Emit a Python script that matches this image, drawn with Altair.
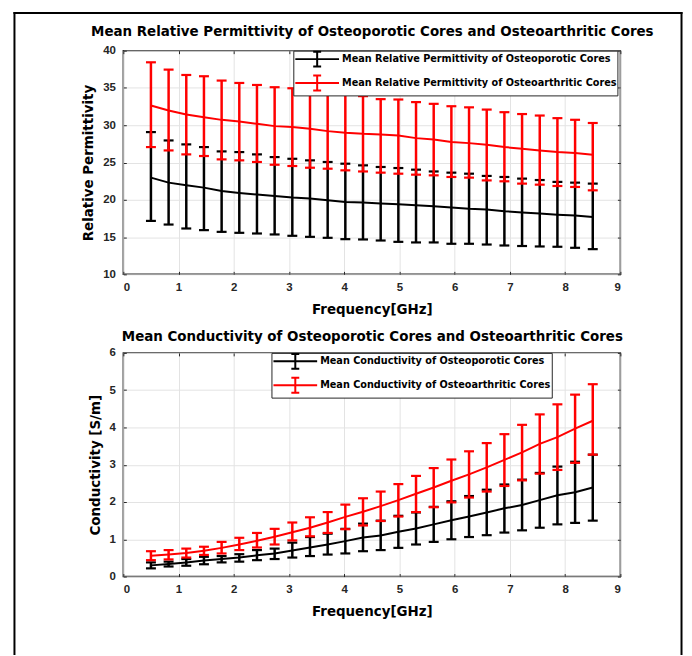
import altair as alt
import pandas as pd

# ---------------- data ----------------
FREQ = [0.5, 0.82, 1.14, 1.46, 1.78, 2.1, 2.42, 2.74, 3.06, 3.38, 3.7, 4.02, 4.34,
        4.66, 4.98, 5.3, 5.62, 5.94, 6.26, 6.58, 6.9, 7.22, 7.54, 7.86, 8.18, 8.5]

PERM_OP_MEAN = [22.97, 22.3, 21.94, 21.63, 21.19, 20.92, 20.7, 20.52, 20.3, 20.16, 19.94, 19.71, 19.63,
                19.5, 19.4, 19.27, 19.14, 18.96, 18.8, 18.7, 18.47, 18.3, 18.15, 18.0, 17.9, 17.7]
PERM_OP_HI = [29.08, 27.96, 27.43, 27.07, 26.49, 26.4, 26.09, 25.73, 25.5, 25.29, 25.07, 24.84, 24.62,
              24.4, 24.26, 24.04, 23.8, 23.64, 23.5, 23.2, 23.06, 22.84, 22.65, 22.4, 22.3, 22.17]
PERM_OP_LO = [17.17, 16.68, 16.15, 15.93, 15.7, 15.57, 15.48, 15.35, 15.17, 15.03, 14.9, 14.72, 14.68,
              14.54, 14.36, 14.28, 14.28, 14.1, 14.1, 14.0, 13.87, 13.8, 13.74, 13.7, 13.56, 13.38]

PERM_OA_MEAN = [32.64, 31.97, 31.44, 31.08, 30.72, 30.5, 30.19, 29.88, 29.75, 29.52, 29.21, 28.99, 28.85,
                28.77, 28.63, 28.27, 28.1, 27.74, 27.6, 27.38, 27.07, 26.85, 26.6, 26.4, 26.27, 26.05]
PERM_OA_HI = [38.44, 37.46, 36.74, 36.57, 35.99, 35.67, 35.4, 35.1, 34.96, 34.6, 34.34, 34.1, 33.9,
              33.5, 33.45, 33.1, 32.87, 32.55, 32.4, 32.1, 31.75, 31.5, 31.3, 30.95, 30.73, 30.3]
PERM_OA_LO = [27.07, 26.62, 26.09, 25.87, 25.42, 25.29, 25.07, 24.7, 24.53, 24.3, 24.17, 23.95, 23.8,
              23.64, 23.5, 23.37, 23.28, 23.06, 22.97, 22.6, 22.48, 22.17, 22.03, 21.85, 21.72, 21.27]

COND_OP_MEAN = [0.3, 0.34, 0.38, 0.43, 0.47, 0.51, 0.57, 0.62, 0.7, 0.78, 0.86, 0.95, 1.05,
                1.1, 1.2, 1.29, 1.4, 1.51, 1.61, 1.72, 1.83, 1.92, 2.05, 2.18, 2.26, 2.39]
COND_OP_HI = [0.38, 0.4, 0.47, 0.53, 0.55, 0.6, 0.71, 0.75, 0.91, 1.06, 1.15, 1.28, 1.42,
              1.5, 1.63, 1.72, 1.87, 2.02, 2.16, 2.33, 2.47, 2.6, 2.78, 2.95, 3.08, 3.27]
COND_OP_LO = [0.22, 0.27, 0.29, 0.33, 0.38, 0.4, 0.44, 0.47, 0.51, 0.55, 0.59, 0.62, 0.68,
              0.71, 0.77, 0.86, 0.93, 1.0, 1.06, 1.11, 1.18, 1.24, 1.31, 1.4, 1.44, 1.5]

COND_OA_MEAN = [0.56, 0.59, 0.63, 0.69, 0.77, 0.86, 0.96, 1.07, 1.19, 1.31, 1.45, 1.6, 1.74,
                1.89, 2.05, 2.22, 2.39, 2.57, 2.74, 2.93, 3.13, 3.33, 3.56, 3.74, 3.97, 4.18]
COND_OA_HI = [0.68, 0.71, 0.75, 0.8, 0.93, 1.04, 1.17, 1.28, 1.45, 1.59, 1.73, 1.93, 2.1,
              2.28, 2.48, 2.7, 2.91, 3.14, 3.36, 3.58, 3.82, 4.07, 4.35, 4.62, 4.88, 5.16]
COND_OA_LO = [0.44, 0.46, 0.51, 0.58, 0.62, 0.71, 0.78, 0.86, 0.97, 1.08, 1.17, 1.27, 1.37,
              1.49, 1.61, 1.73, 1.86, 1.99, 2.12, 2.28, 2.43, 2.58, 2.76, 2.86, 3.05, 3.27]

NAME_PERM_OP = "Mean Relative Permittivity of Osteoporotic Cores"
NAME_PERM_OA = "Mean Relative Permittivity of Osteoarthritic Cores"
NAME_COND_OP = "Mean Conductivity of Osteoporotic Cores"
NAME_COND_OA = "Mean Conductivity of Osteoarthritic Cores"
TITLE_PERM = "Mean Relative Permittivity of Osteoporotic Cores and Osteoarthritic Cores"
TITLE_COND = "Mean Conductivity of Osteoporotic Cores and Osteoarthritic Cores"
X_TITLE = "Frequency[GHz]"
Y_TITLE_PERM = "Relative Permittivity"
Y_TITLE_COND = "Conductivity [S/m]"

X_TICKS = [0, 1, 2, 3, 4, 5, 6, 7, 8, 9]
PERM_TICKS = [10, 15, 20, 25, 30, 35, 40]
COND_TICKS = [0, 1, 2, 3, 4, 5, 6]
SERIES_COLORS = ["#000000", "#ff0000"]

# ---------------- styling ----------------
W, H = 500, 225
TXT = "DejaVu Sans"
NUM = "Liberation Sans"
LEG_PATH = "M-3.14,0H3.14M0,-1.07V1.07M-0.57,-1.07H0.57M-0.57,1.07H0.57"
AX = "#262626"
TICK = dict(ticks=True, tickSize=3, tickColor=AX, tickWidth=1, offset=-3, domain=False)


def frame(name, mean, lo, hi):
    return pd.DataFrame({"freq": FREQ, "series": name, "mean": mean, "lo": lo, "hi": hi})


def panel(df, names, ydom, yticks, ytitle, ptitle, legx, title_pad, border):
    xs = alt.Scale(domain=[0, 9], nice=False)
    ys = alt.Scale(domain=ydom, nice=False)
    legend = alt.Legend(
        title=None, orient="none", legendX=legx, legendY=0,
        symbolType=LEG_PATH, symbolSize=196, symbolStrokeWidth=2,
        symbolOffset=15.5, labelOffset=17, padding=0.5, rowPadding=0,
        labelFont=TXT, labelFontSize=9.75, labelFontWeight="bold", labelColor="#000000",
        labelLimit=500, strokeColor=AX, fillColor="#ffffff",
    )
    color = alt.Color("series:N", scale=alt.Scale(domain=names, range=SERIES_COLORS), legend=legend)

    top_axis = alt.Axis(orient="top", title=ptitle, values=X_TICKS, labels=False, grid=False,
                        titleFont=TXT, titleFontSize=13.5, titleFontWeight="bold",
                        titleColor="#000000", titlePadding=title_pad, **TICK)
    bottom_axis = alt.Axis(orient="bottom", title=X_TITLE, values=X_TICKS, grid=True,
                           labelPadding=7, labelFont=NUM, labelFontSize=11.5,
                           labelFontWeight="bold", labelColor=AX, titleFont=TXT,
                           titleFontSize=13.5, titleFontWeight="bold", titleColor="#000000",
                           titlePadding=10, **TICK)
    left_axis = alt.Axis(orient="left", title=ytitle, values=yticks, grid=True,
                         labelPadding=8, labelFont=NUM, labelFontSize=11.5,
                         labelFontWeight="bold", labelColor=AX, titleFont=TXT,
                         titleFontSize=13.5, titleFontWeight="bold", titleColor="#000000",
                         titlePadding=7, **TICK)
    right_axis = alt.Axis(orient="right", title=None, values=yticks, grid=False, labels=False, **TICK)

    layers = []
    if border:
        bd = alt.Chart(pd.DataFrame({"k": [0]}))
        style = dict(color="#000000", strokeWidth=2, strokeCap="square")
        layers.append(bd.mark_rule(**style).encode(x=alt.value(-109.5), y=alt.value(-38), y2=alt.value(607)))
        layers.append(bd.mark_rule(**style).encode(x=alt.value(561.5), y=alt.value(-38), y2=alt.value(607)))
        layers.append(bd.mark_rule(**style).encode(x=alt.value(-109.5), x2=alt.value(561.5), y=alt.value(-38)))

    base = alt.Chart(df)
    for i, name in enumerate(names):
        d = base.transform_filter(alt.datum.series == name)
        xn = alt.X("freq:Q", scale=xs, axis=None)
        y_rule_axis = left_axis if i == 0 else None
        layers.append(d.mark_rule(strokeWidth=2.5).encode(
            x=xn, y=alt.Y("lo:Q", scale=ys, axis=y_rule_axis), y2="hi:Q", color=color))
        for f in ("hi", "lo"):
            layers.append(d.mark_rule(strokeWidth=2.2, xOffset=-5, x2Offset=5).encode(
                x=xn, x2="freq:Q", y=alt.Y(f + ":Q", scale=ys, axis=None), color=color))
        if i == 0:
            xa = alt.X("freq:Q", scale=xs, axis=top_axis)
            ya = alt.Y("mean:Q", scale=ys, axis=right_axis)
        else:
            xa = alt.X("freq:Q", scale=xs, axis=bottom_axis)
            ya = alt.Y("mean:Q", scale=ys, axis=None)
        layers.append(d.mark_line(strokeWidth=2).encode(x=xa, y=ya, color=color))

    return alt.layer(*layers).properties(width=W, height=H)


perm_df = pd.concat([frame(NAME_PERM_OP, PERM_OP_MEAN, PERM_OP_LO, PERM_OP_HI),
                     frame(NAME_PERM_OA, PERM_OA_MEAN, PERM_OA_LO, PERM_OA_HI)], ignore_index=True)
cond_df = pd.concat([frame(NAME_COND_OP, COND_OP_MEAN, COND_OP_LO, COND_OP_HI),
                     frame(NAME_COND_OA, COND_OA_MEAN, COND_OA_LO, COND_OA_HI)], ignore_index=True)

top = panel(perm_df, [NAME_PERM_OP, NAME_PERM_OA], [10, 40], PERM_TICKS, Y_TITLE_PERM, TITLE_PERM,
            171, 11.5, True)
bottom = panel(cond_df, [NAME_COND_OP, NAME_COND_OA], [0, 6], COND_TICKS, Y_TITLE_COND, TITLE_COND,
               149, 9, False)

chart = alt.vconcat(top, bottom, spacing=79, bounds="flush").resolve_scale(
    color="independent"
).resolve_legend(
    color="independent"
).properties(
    padding={"left": 4, "top": 0, "right": 0, "bottom": 0},
    background="#ffffff",
).configure_view(
    stroke=AX, strokeWidth=1.5
).configure_axis(
    gridColor="#e3e3e3", gridWidth=1
)

chart.save("out.html", embed_options={"renderer": "svg", "actions": False})
